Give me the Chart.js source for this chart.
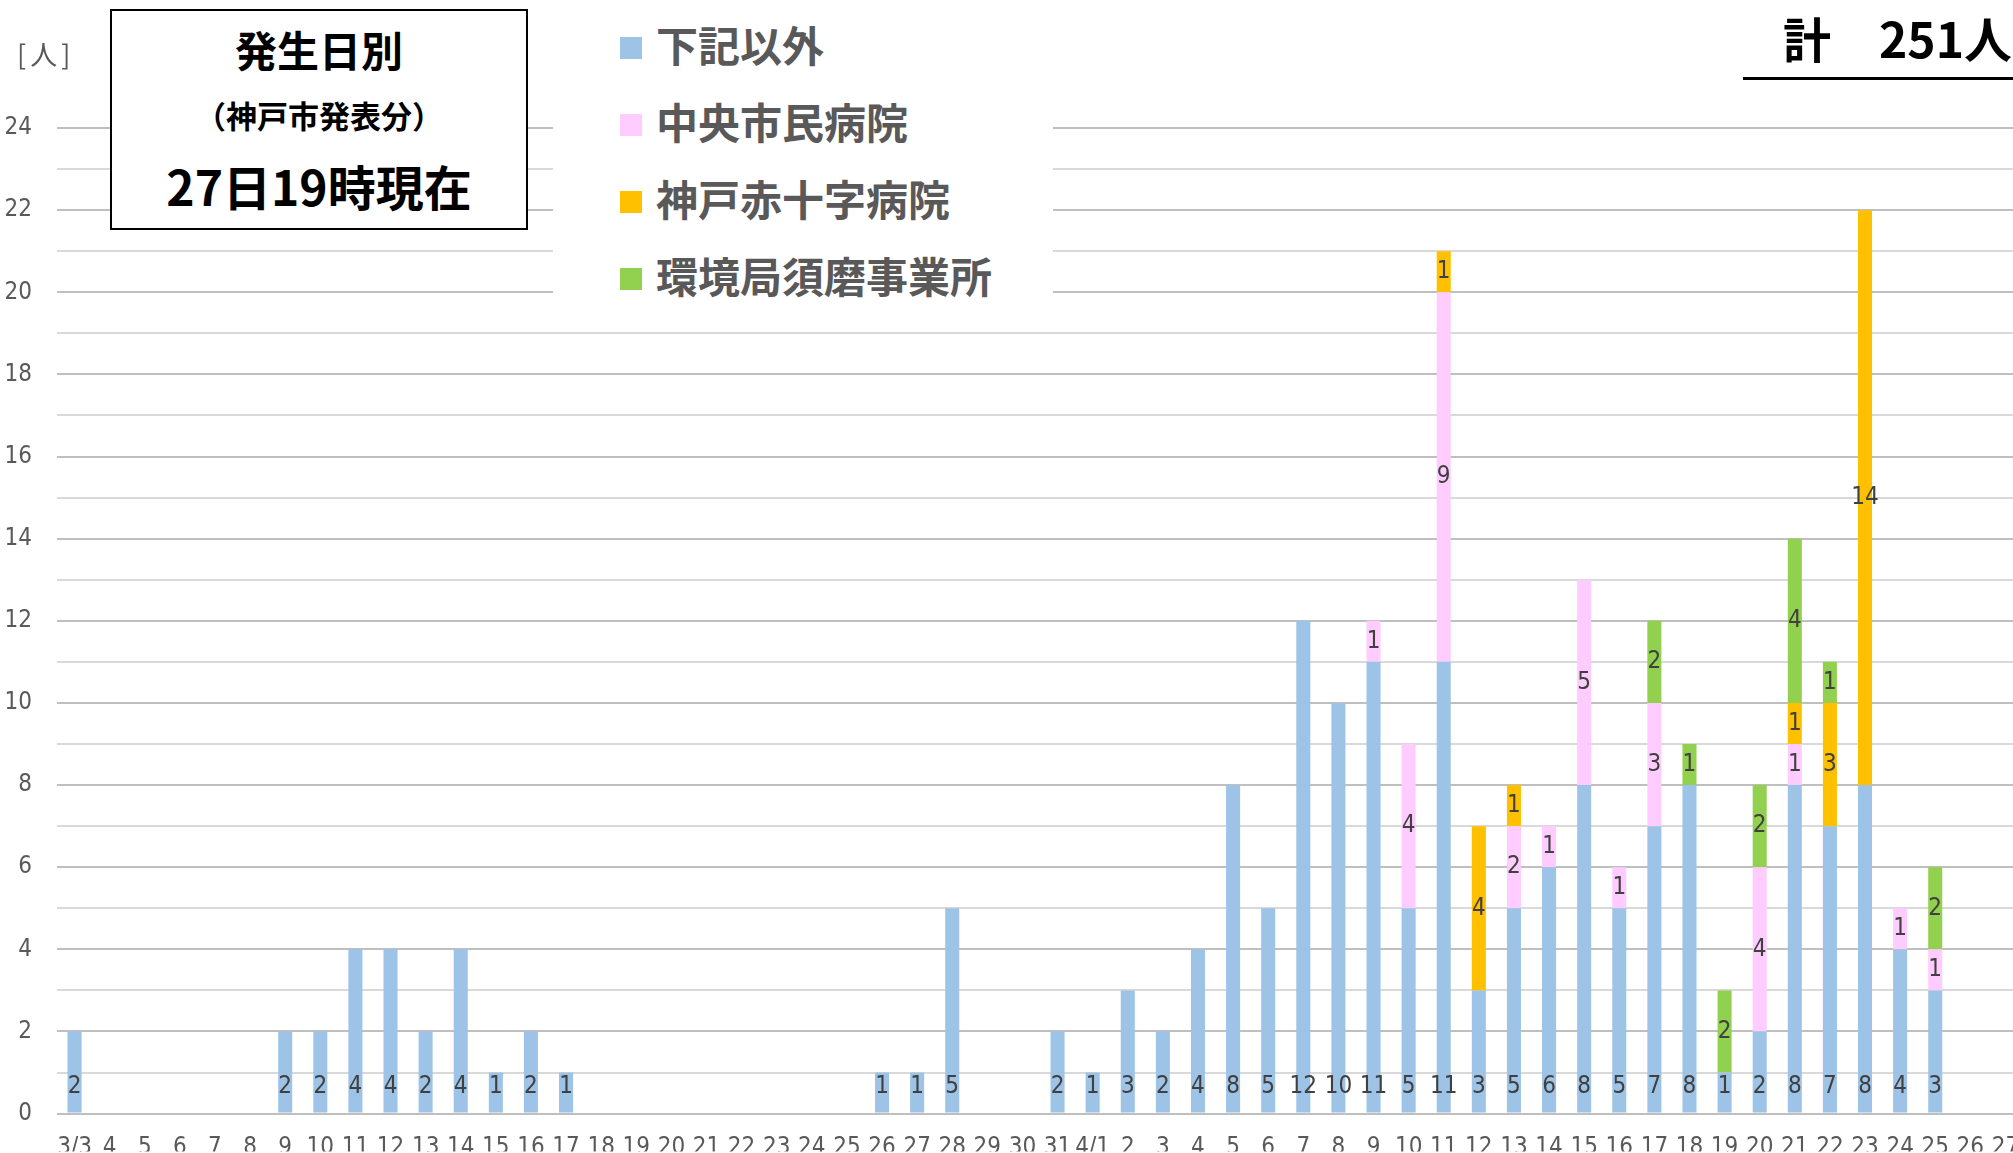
<!DOCTYPE html>
<html lang="ja">
<head>
  <meta charset="UTF-8">
  <title>発生日別（神戸市発表分）</title>
  <script src="https://cdn.jsdelivr.net/npm/chart.js"></script>
  <style>
    html, body {
      margin: 0;
      padding: 0;
      background: #fff;
      overflow: hidden;
    }
    #wrap {
      position: relative;
      width: 2035px;
      height: 1153px;
    }
    canvas {
      position: absolute;
      left: 0;
      top: 0;
    }
    .jp {
      font-family: "Noto Sans CJK JP", sans-serif;
    }
    .titlebox {
      position: absolute;
      left: 110px;
      top: 9px;
      width: 414px;
      height: 217px;
      border: 2px solid #000;
      background: #fff;
      color: #000;
      font-weight: bold;
      text-align: center;
    }
    .titlebox div {
      position: absolute;
      left: 0;
      width: 100%;
      white-space: nowrap;
    }
    #legend {
      position: absolute;
      left: 553px;
      top: 0;
      width: 500px;
      height: 305px;
      background: #fff;
    }
    .item {
      position: absolute;
      left: 67px;
      height: 60px;
      line-height: 60px;
      font-size: 42px;
      font-weight: bold;
      color: #595959;
      white-space: nowrap;
    }
    .item span.box {
      display: inline-block;
      width: 22px;
      height: 22px;
      margin-right: 14px;
      vertical-align: middle;
      position: relative;
      top: -3px;
    }
    .total {
      position: absolute;
      left: 1783px;
      top: 6px;
      font-size: 48px;
      font-weight: bold;
      line-height: 62px;
      color: #000;
      white-space: nowrap;
    }
    .underline {
      position: absolute;
      left: 1743px;
      top: 77px;
      width: 300px;
      height: 3px;
      background: #000;
    }
    .unit {
      position: absolute;
      left: 17px;
      top: 37px;
      font-size: 27px;
      line-height: 34px;
      letter-spacing: 4px;
      color: #595959;
    }
  </style>
</head>
<body>
  <div id="wrap">
    <canvas id="chart" width="2035" height="1153"></canvas>

    <div class="titlebox jp">
      <div style="top: 8px; font-size: 42px; line-height: 60px;">発生日別</div>
      <div style="top: 84px; font-size: 31px; line-height: 40px;">（神戸市発表分）</div>
      <div style="top: 142px; font-size: 48px; line-height: 64px;">27日19時現在</div>
    </div>

    <div id="legend" class="jp"></div>

    <div class="total jp">計　251人</div>
    <div class="underline"></div>
    <div class="unit jp">[人]</div>
  </div>

  <script>
    // 日付 3/3 〜 4/27
    const days = ["3/3", "4", "5", "6", "7", "8", "9", "10", "11", "12", "13", "14", "15", "16",
      "17", "18", "19", "20", "21", "22", "23", "24", "25", "26", "27", "28", "29", "30", "31",
      "4/1", "2", "3", "4", "5", "6", "7", "8", "9", "10", "11", "12", "13", "14", "15", "16",
      "17", "18", "19", "20", "21", "22", "23", "24", "25", "26", "27"];

    const seriesNames = ["下記以外", "中央市民病院", "神戸赤十字病院", "環境局須磨事業所"];
    const seriesColors = ["#9dc3e6", "#ffccff", "#ffc000", "#92d050"];

    // 3月分(3/3-3/31) + 4月分(4/1-4/27)
    const other = [2, 0, 0, 0, 0, 0, 2, 2, 4, 4, 2, 4, 1, 2, 1, 0, 0, 0, 0, 0, 0, 0, 0, 1, 1, 5, 0, 0, 2,
      1, 3, 2, 4, 8, 5, 12, 10, 11, 5, 11, 3, 5, 6, 8, 5, 7, 8, 1, 2, 8, 7, 8, 4, 3, 0, 0];
    const chuo = [0, 0, 0, 0, 0, 0, 0, 0, 0, 0, 0, 0, 0, 0, 0, 0, 0, 0, 0, 0, 0, 0, 0, 0, 0, 0, 0, 0, 0,
      0, 0, 0, 0, 0, 0, 0, 0, 1, 4, 9, 0, 2, 1, 5, 1, 3, 0, 0, 4, 1, 0, 0, 1, 1, 0, 0];
    const redCross = [0, 0, 0, 0, 0, 0, 0, 0, 0, 0, 0, 0, 0, 0, 0, 0, 0, 0, 0, 0, 0, 0, 0, 0, 0, 0, 0, 0, 0,
      0, 0, 0, 0, 0, 0, 0, 0, 0, 0, 1, 4, 1, 0, 0, 0, 0, 0, 0, 0, 1, 3, 14, 0, 0, 0, 0];
    const suma = [0, 0, 0, 0, 0, 0, 0, 0, 0, 0, 0, 0, 0, 0, 0, 0, 0, 0, 0, 0, 0, 0, 0, 0, 0, 0, 0, 0, 0,
      0, 0, 0, 0, 0, 0, 0, 0, 0, 0, 0, 0, 0, 0, 0, 0, 2, 1, 2, 2, 4, 1, 0, 0, 2, 0, 0];

    const yMax = 24;

    const numFont = '"Liberation Sans Narrow", "DejaVu Sans Condensed", "Liberation Sans", sans-serif';

    // 凡例
    const legend = document.getElementById("legend");
    const legendTops = [14, 91, 168, 245];
    seriesNames.forEach(function (name, i) {
      const div = document.createElement("div");
      div.className = "item";
      div.style.top = legendTops[i] + "px";
      div.innerHTML = '<span class="box" style="background:' + seriesColors[i] + '"></span>' + name;
      legend.appendChild(div);
    });

    // 棒の中に数値を描く
    const valueLabels = {
      id: "valueLabels",
      afterDatasetsDraw(chart) {
        const ctx = chart.ctx;
        ctx.save();
        ctx.font = "24px " + numFont;
        ctx.fillStyle = "#404040";
        ctx.textAlign = "center";
        ctx.textBaseline = "middle";
        chart.data.datasets.forEach(function (ds, i) {
          const meta = chart.getDatasetMeta(i);
          meta.data.forEach(function (bar, j) {
            const v = ds.data[j];
            if (!v) return;
            const y = i === 0 ? bar.base - 26 : (bar.y + bar.base) / 2;
            ctx.fillText(String(v), bar.x, y);
          });
        });
        ctx.restore();
      }
    };

    const allSeries = [other, chuo, redCross, suma];

    new Chart(document.getElementById("chart"), {
      type: "bar",
      data: {
        labels: days,
        datasets: allSeries.map(function (d, i) {
          return {
            label: seriesNames[i],
            data: d,
            backgroundColor: seriesColors[i],
            barPercentage: 0.4,
            categoryPercentage: 1.0,
            stack: "s"
          };
        })
      },
      options: {
        responsive: false,
        animation: false,
        layout: { padding: { top: 128, right: 12, bottom: 0, left: 0 } },
        plugins: {
          legend: { display: false },
          tooltip: { enabled: false }
        },
        scales: {
          x: {
            stacked: true,
            grid: { display: false },
            border: { display: false },
            ticks: {
              autoSkip: false,
              maxRotation: 0,
              padding: 12,
              color: "#595959",
              font: { family: numFont, size: 24 }
            },
            afterFit: function (scale) { scale.height = 38; }
          },
          y: {
            stacked: true,
            min: 0,
            max: yMax,
            border: { display: false },
            grid: {
              drawTicks: false,
              lineWidth: 2,
              color: function (c) { return c.tick.value % 2 === 0 ? "#bfbfbf" : "#d9d9d9"; }
            },
            ticks: {
              stepSize: 1,
              autoSkip: false,
              padding: 25,
              color: "#595959",
              font: { family: numFont, size: 24 },
              callback: function (v) { return v % 2 === 0 ? v : ""; }
            },
            afterFit: function (scale) { scale.width = 57; }
          }
        }
      },
      plugins: [valueLabels]
    });
  </script>
</body>
</html>
